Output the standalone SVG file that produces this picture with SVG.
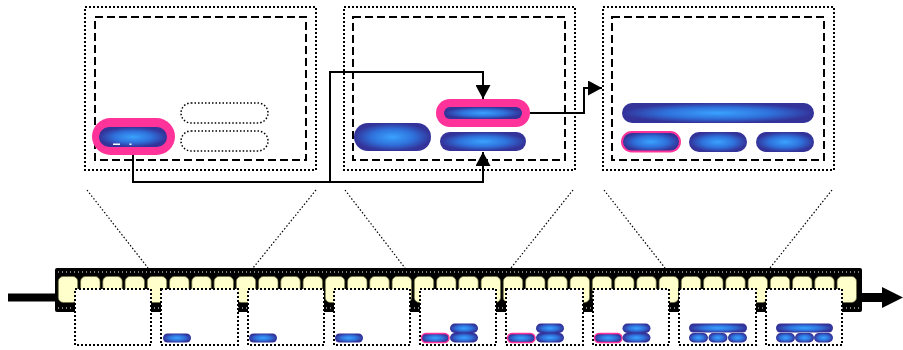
<svg xmlns="http://www.w3.org/2000/svg" width="903" height="350" viewBox="0 0 903 350">
<defs>
<radialGradient id="blue" cx="0.5" cy="0.5" r="0.5">
<stop offset="0" stop-color="#3aa2ff"/>
<stop offset="0.55" stop-color="#2f72dc"/>
<stop offset="1" stop-color="#333399"/>
</radialGradient>
<marker id="arr" markerUnits="userSpaceOnUse" markerWidth="15" markerHeight="15" refX="14" refY="7.5" orient="auto">
<path d="M0,0 L14,7.5 L0,15 z" fill="#000"/>
</marker>
<style>
.outer{fill:#fff;stroke:#000;stroke-width:2;stroke-dasharray:2 2}
.inner{fill:none;stroke:#000;stroke-width:2;stroke-dasharray:8 4}
.pill{fill:url(#blue)}
.pink{fill:#ff3399}
.pinkline{fill:url(#blue);stroke:#ff3399;stroke-width:1.5}
.empty{fill:#fff;stroke:#000;stroke-width:1.5;stroke-dasharray:1.5 2}
.zoom{fill:none;stroke:#000;stroke-width:1.2;stroke-dasharray:1.5 2}
.conn{fill:none;stroke:#000;stroke-width:2}
.frame{fill:#ffffcc;stroke:#6b6b40;stroke-width:0.7}
.thumb{fill:#fff;stroke:#000;stroke-width:2;stroke-dasharray:2 2}
.wdots{fill:none;stroke:#fff;stroke-width:1;stroke-dasharray:1 3}
</style>
</defs>

<g id="panel1">
<rect class="outer" x="85" y="7" width="231" height="163"/>
<rect class="inner" x="95" y="17" width="211" height="143"/>
<rect class="empty" x="181" y="103" width="87" height="20" rx="10"/>
<rect class="empty" x="181" y="131" width="87" height="20" rx="10"/>
<g id="p1-selected">
<rect class="pink" x="92" y="118" width="83" height="37" rx="18.5"/>
<rect class="pill" x="99" y="127" width="68" height="20" rx="10"/>
<rect x="113" y="143.5" width="7" height="1.5" fill="#fff"/>
<rect x="129.5" y="143.5" width="2" height="1.5" fill="#fff"/>
</g>
</g>

<g id="panel2">
<rect class="outer" x="344" y="7" width="231" height="163"/>
<rect class="inner" x="353" y="17" width="212" height="143"/>
<rect class="pill" x="354" y="123" width="77" height="28" rx="14"/>
<g id="p2-selected">
<rect class="pink" x="436" y="99" width="94" height="28" rx="14"/>
<rect class="pill" x="444" y="107" width="78" height="12" rx="6"/>
</g>
<rect class="pill" x="440" y="132" width="86" height="19" rx="9.5"/>
</g>

<g id="panel3">
<rect class="outer" x="603" y="7" width="231" height="163"/>
<rect class="inner" x="612" y="17" width="212" height="143"/>
<rect class="pill" x="622" y="103" width="192" height="20" rx="10"/>
<rect class="pinkline" x="622" y="132" width="58" height="19.5" rx="9.75" style="stroke-width:2"/>
<rect class="pill" x="689" y="132" width="58" height="20" rx="10"/>
<rect class="pill" x="756" y="132" width="58" height="20" rx="10"/>
</g>

<g id="connectors">
<path class="conn" d="M133,155 V182 H330 V72 H483 V99" marker-end="url(#arr)"/>
<path class="conn" d="M133,155 V182 H483 V152" marker-end="url(#arr)"/>
<path class="conn" d="M530,113 H584 V88 H602" marker-end="url(#arr)"/>
<path class="zoom" d="M87,190 L148,268 M316,190 L253,268 M345,190 L405,268 M573,190 L511,268 M604,190 L665,268 M832,190 L770,268"/>
</g>

<g id="timeline">
<path d="M8,297.5 H56" stroke="#000" stroke-width="8"/>
<path d="M860,297.5 H884" stroke="#000" stroke-width="9"/>
<path d="M882,287 L903,297.5 L882,308 z" fill="#000"/>
<rect x="55" y="268" width="807" height="44" rx="2" fill="#000"/>
<path class="wdots" d="M58,272 H860 M58,308 H860"/>
<g id="frames">
<rect class="frame" x="58.3" y="276.5" width="19.4" height="26" rx="5"/>
<rect class="frame" x="80.6" y="276.5" width="19.4" height="26" rx="5"/>
<rect class="frame" x="102.8" y="276.5" width="19.4" height="26" rx="5"/>
<rect class="frame" x="125.1" y="276.5" width="19.4" height="26" rx="5"/>
<rect class="frame" x="147.3" y="276.5" width="19.4" height="26" rx="5"/>
<rect class="frame" x="169.6" y="276.5" width="19.4" height="26" rx="5"/>
<rect class="frame" x="191.8" y="276.5" width="19.4" height="26" rx="5"/>
<rect class="frame" x="214.1" y="276.5" width="19.4" height="26" rx="5"/>
<rect class="frame" x="236.3" y="276.5" width="19.4" height="26" rx="5"/>
<rect class="frame" x="258.6" y="276.5" width="19.4" height="26" rx="5"/>
<rect class="frame" x="280.8" y="276.5" width="19.4" height="26" rx="5"/>
<rect class="frame" x="303.1" y="276.5" width="19.4" height="26" rx="5"/>
<rect class="frame" x="325.3" y="276.5" width="19.4" height="26" rx="5"/>
<rect class="frame" x="347.6" y="276.5" width="19.4" height="26" rx="5"/>
<rect class="frame" x="369.8" y="276.5" width="19.4" height="26" rx="5"/>
<rect class="frame" x="392.1" y="276.5" width="19.4" height="26" rx="5"/>
<rect class="frame" x="414.3" y="276.5" width="19.4" height="26" rx="5"/>
<rect class="frame" x="436.6" y="276.5" width="19.4" height="26" rx="5"/>
<rect class="frame" x="458.8" y="276.5" width="19.4" height="26" rx="5"/>
<rect class="frame" x="481.1" y="276.5" width="19.4" height="26" rx="5"/>
<rect class="frame" x="503.3" y="276.5" width="19.4" height="26" rx="5"/>
<rect class="frame" x="525.6" y="276.5" width="19.4" height="26" rx="5"/>
<rect class="frame" x="547.8" y="276.5" width="19.4" height="26" rx="5"/>
<rect class="frame" x="570.1" y="276.5" width="19.4" height="26" rx="5"/>
<rect class="frame" x="592.3" y="276.5" width="19.4" height="26" rx="5"/>
<rect class="frame" x="614.6" y="276.5" width="19.4" height="26" rx="5"/>
<rect class="frame" x="636.8" y="276.5" width="19.4" height="26" rx="5"/>
<rect class="frame" x="659.1" y="276.5" width="19.4" height="26" rx="5"/>
<rect class="frame" x="681.3" y="276.5" width="19.4" height="26" rx="5"/>
<rect class="frame" x="703.6" y="276.5" width="19.4" height="26" rx="5"/>
<rect class="frame" x="725.8" y="276.5" width="19.4" height="26" rx="5"/>
<rect class="frame" x="748.1" y="276.5" width="19.4" height="26" rx="5"/>
<rect class="frame" x="770.3" y="276.5" width="19.4" height="26" rx="5"/>
<rect class="frame" x="792.6" y="276.5" width="19.4" height="26" rx="5"/>
<rect class="frame" x="814.8" y="276.5" width="19.4" height="26" rx="5"/>
<rect class="frame" x="837.1" y="276.5" width="19.4" height="26" rx="5"/>
</g>
</g>

<g id="thumb1"><rect class="thumb" x="75" y="289" width="76" height="56"/></g>
<g id="thumb2"><rect class="thumb" x="161" y="289" width="77" height="56"/>
<rect class="pill" x="163" y="333.5" width="28" height="9" rx="4.5"/></g>
<g id="thumb3"><rect class="thumb" x="248" y="289" width="76" height="56"/>
<rect class="pill" x="249" y="333.5" width="28" height="9" rx="4.5"/></g>
<g id="thumb4"><rect class="thumb" x="334" y="289" width="76" height="56"/>
<rect class="pill" x="335" y="333.5" width="28" height="9" rx="4.5"/></g>
<g id="thumb5"><rect class="thumb" x="420" y="289" width="76" height="56"/>
<rect class="pinkline" x="421.5" y="333.5" width="27.5" height="9" rx="4.5"/>
<rect class="pill" x="450" y="323.5" width="28" height="9.5" rx="4.75"/>
<rect class="pill" x="450" y="333" width="28" height="9.5" rx="4.75"/></g>
<g id="thumb6"><rect class="thumb" x="506" y="289" width="77" height="56"/>
<rect class="pinkline" x="507.5" y="333.5" width="27.5" height="9" rx="4.5"/>
<rect class="pill" x="536" y="323.5" width="28" height="9.5" rx="4.75"/>
<rect class="pill" x="536" y="333" width="28" height="9.5" rx="4.75"/></g>
<g id="thumb7"><rect class="thumb" x="593" y="289" width="76" height="56"/>
<rect class="pinkline" x="594.5" y="333.5" width="27.5" height="9" rx="4.5"/>
<rect class="pill" x="622.5" y="323.5" width="28" height="9.5" rx="4.75"/>
<rect class="pill" x="622.5" y="333" width="28" height="9.5" rx="4.75"/></g>
<g id="thumb8"><rect class="thumb" x="679" y="289" width="77" height="56"/>
<rect class="pill" x="689" y="323.5" width="58" height="9" rx="4.5"/>
<rect class="pill" x="689" y="333" width="19" height="9.5" rx="4.75"/>
<rect class="pill" x="708.5" y="333" width="19" height="9.5" rx="4.75"/>
<rect class="pill" x="728" y="333" width="19" height="9.5" rx="4.75"/></g>
<g id="thumb9"><rect class="thumb" x="766" y="289" width="76" height="56"/>
<rect class="pill" x="776" y="323.5" width="57" height="9" rx="4.5"/>
<rect class="pill" x="776" y="333" width="19" height="9.5" rx="4.75"/>
<rect class="pill" x="795" y="333" width="19" height="9.5" rx="4.75"/>
<rect class="pill" x="814" y="333" width="19" height="9.5" rx="4.75"/></g>
</svg>
